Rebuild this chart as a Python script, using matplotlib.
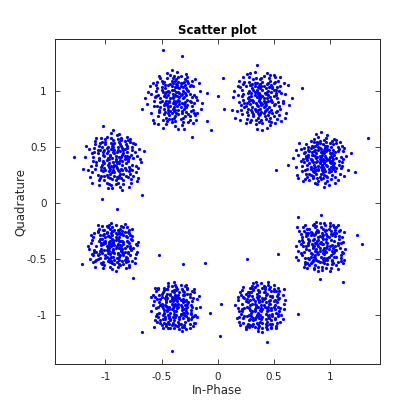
import numpy as np
import matplotlib
matplotlib.use("Agg")
import matplotlib.pyplot as plt

# 8-PSK symbol positions (In-Phase, Quadrature)
centers_i = [0.92, 0.38, -0.38, -0.92, -0.92, -0.38, 0.38, 0.92]
centers_q = [0.38, 0.92, 0.92, 0.38, -0.38, -0.92, -0.92, -0.38]

# received samples around each symbol, offsets in hundredths
offsets_a = [
    (42, 20), (-40, -9), (3, -2), (-7, 5), (11, 1), (-2, -9), (6, 13), (-12, -4), (1, 7), (9, -6),
    (-4, 2), (15, 8), (-9, -13), (2, -1), (-1, 17), (7, -11), (-15, 6), (4, 4), (12, -3), (-6, -7),
    (0, 10), (19, -5), (-3, -16), (8, 3), (-11, 12), (5, -14), (-8, 0), (14, 15), (-5, 9), (3, -8),
    (-17, -10), (10, 6), (1, -4), (-2, 21), (6, -19), (-13, 2), (21, 11), (-7, -2), (9, -10), (-1, 4),
    (16, -1), (-10, 8), (2, 14), (-4, -12), (13, -15), (-20, 5), (7, 1), (-6, 16), (0, -6), (11, 9),
    (-3, -1), (5, 20), (-14, -17), (18, 3), (-9, 11), (4, -20), (1, 0), (-12, -8), (8, -2), (-5, 13),
    (24, -9), (-1, -3), (10, 17), (-16, 1), (3, 6), (-7, -14), (14, -7), (-2, 9), (6, -5), (-22, -6),
    (9, 12), (-4, -9), (0, 25), (17, -12), (-11, 3), (2, -11), (-8, 7), (12, 5), (-3, -21), (5, 2),
    (-13, 14), (20, 1), (-6, -4), (7, 9), (-1, -15), (-18, 10), (11, -8), (3, 18), (-9, -6), (15, -18),
    (0, 3), (-5, -10), (8, 15), (-15, -2), (13, 7), (-2, -5), (4, 11), (-10, -18), (23, 4), (-7, 12),
    (1, -7), (10, -13), (-4, 6), (-21, -13), (6, 22), (-12, 0), (16, 10), (2, -16), (-8, -1), (5, 8),
    (-3, 14), (19, -2), (-14, 7), (9, -17), (-1, 1), (12, 19), (-6, -11), (3, -3), (-25, 2), (7, -8),
    (-9, 17), (14, 2), (0, -12), (-5, 4), (10, -1), (-17, -5), (4, 13), (-2, -19), (21, -14), (-11, 9),
    (6, 0), (-7, -16), (17, 16), (-3, 3), (1, -9), (-13, -12), (8, 6), (-19, 15), (11, -4), (-4, -2),
    (27, 6), (-8, 5), (3, -13), (-1, 11), (13, -10), (-10, -3), (5, 16), (-15, 11), (2, -6), (9, 4),
    (-6, 19), (18, -7), (-12, -15), (0, 7), (7, -22), (-2, -8), (15, 12), (-9, 1), (4, -1), (-22, 9),
    (11, 14), (-5, -6), (1, 5), (-16, -19), (8, -9), (-3, 16), (20, 8), (-7, -10), (6, -15), (-11, 5),
    (3, 9), (-1, -2), (13, -20), (-18, -1), (5, -4), (-4, 23), (10, 3), (-14, -9), (16, -4), (-8, 13),
    (2, 1), (-29, -4), (9, -3), (-6, 8), (14, 18), (-10, -12), (0, -17), (6, 10), (-20, -16), (12, -6),
    (-2, 12), (4, -10), (-13, 4), (19, 13), (-5, -20), (8, -1), (-1, 15), (-9, -8), (31, -11), (3, -24),
]
offsets_b = [
    (-33, 19), (-38, 3), (-32, -8), (37, 10), (-3, 31), (2, -4), (-8, 6), (10, -1), (-1, 12), (5, -9),
    (-12, -3), (7, 8), (0, -13), (14, 4), (-5, 15), (3, 1), (-16, 9), (9, -16), (-2, -6), (18, 12),
    (-7, -11), (1, 19), (12, -5), (-10, 2), (6, 14), (-4, -18), (15, -10), (-14, -7), (4, 6), (-1, -1),
    (20, -3), (-9, 13), (2, -21), (11, 10), (-6, -2), (-19, 17), (8, -7), (-3, 7), (13, 20), (-11, -14),
    (0, 4), (17, -14), (-5, -8), (6, 24), (-15, 0), (9, 2), (-2, 11), (-21, -10), (3, -12), (12, 15),
    (-8, 3), (1, -3), (22, 5), (-13, 12), (5, -17), (-6, 18), (10, -9), (-1, 6), (-17, -5), (7, -1),
    (14, 9), (-4, -22), (0, 14), (-10, 8), (19, -19), (-7, 0), (3, 21), (-12, -17), (8, 11), (-2, -9),
    (16, -2), (-20, 4), (4, -6), (-5, 25), (11, -12), (-9, -4), (2, 9), (25, 13), (-14, 16), (6, -25),
    (-1, 2), (13, -4), (-7, 10), (9, 17), (-16, -13), (0, -8), (5, 5), (-11, 1), (18, -8), (-3, 15),
    (7, -14), (-23, 8), (1, 12), (12, 3), (-6, -15), (-10, 20), (15, -17), (-4, -3), (3, -1), (21, 15),
    (-8, -9), (10, 7), (-15, 5), (-2, -16), (6, 1), (-12, 23), (14, -11), (0, 10), (-19, -2), (8, -19),
    (-5, 4), (2, 16), (17, 8), (-9, -20), (11, -2), (-3, 9), (-18, 11), (4, -10), (26, -5), (-7, 14),
    (1, -11), (-13, -6), (9, 22), (-1, 0), (15, 1), (-6, -13), (-22, -16), (5, 10), (12, -15), (-4, 19),
    (-10, -1), (19, 6), (2, -27), (-15, 14), (7, 4), (-3, -5), (10, 13), (-8, -18), (23, -12), (0, 18),
    (-11, 6), (4, -3), (13, -21), (-5, 12), (-17, -9), (6, 7), (-1, -14), (16, 17), (-9, 0), (3, -7),
    (-24, 2), (11, 11), (-2, 5), (8, -11), (-13, -21), (20, -1), (-6, 9), (1, -18), (14, 6), (-10, 16),
    (5, -5), (-4, -10), (18, 20), (-16, 3), (2, 3), (9, -23), (-7, -7), (12, 9), (-20, 12), (0, -2),
    (7, 15), (-12, -11), (22, -16), (-3, 2), (-9, 24), (4, -15), (15, 11), (-1, -20), (-14, -3), (10, 0),
    (-5, 7), (6, -8), (-18, -18), (13, 16), (1, -5), (-8, 13), (28, 1), (-2, -12), (8, 19), (-11, -8),
    (3, 12), (-6, -1), (17, -6), (-15, 20), (10, -20), (-3, -26), (5, -2), (-25, -9), (12, 22), (0, 1),
]
offsets_c = [
    (-11, 44), (6, 39), (29, 6), (32, -27), (29, -19), (-29, -8), (15, -33), (2, 3), (-7, -5), (11, 9),
    (-3, 12), (6, -10), (-13, 1), (0, -4), (8, 16), (-5, 7), (17, -3), (-10, -13), (3, 20), (-1, -1),
    (13, 5), (-16, 10), (5, -17), (-8, 2), (10, -7), (-2, 15), (-19, -6), (7, 11), (1, -12), (-12, 17),
    (20, 0), (-6, -9), (4, 6), (-3, -20), (14, 13), (-9, 5), (0, -15), (-22, 12), (9, -2), (-4, 22),
    (12, -13), (-14, -11), (3, 0), (-1, 9), (18, 18), (-8, -1), (6, -23), (-17, 3), (1, 14), (10, 4),
    (-5, -14), (-11, 7), (16, -9), (-2, 2), (5, 12), (-20, -18), (8, -4), (-7, 19), (13, -18), (-1, -7),
    (2, 25), (-13, -2), (22, 8), (-4, -10), (7, 1), (-9, 13), (0, -24), (15, -6), (-16, 16), (4, -1),
    (-6, 4), (11, 20), (-25, -4), (3, -9), (-3, 17), (17, 4), (-10, -8), (1, 7), (9, -15), (-15, -15),
    (-2, -3), (6, 15), (-12, 9), (14, -2), (0, 11), (-7, -19), (20, -12), (-4, 1), (10, 10), (-18, 2),
    (3, -13), (-1, 21), (8, -8), (-9, -3), (12, 15), (-14, 21), (5, 4), (-3, -17), (19, -18), (-6, 8),
    (-21, -12), (2, -6), (9, 6), (-11, 15), (16, 12), (-5, -1), (0, 17), (7, -20), (-13, -7), (4, 10),
    (-8, -16), (13, -1), (-2, 5), (-17, 8), (6, -12), (10, 23), (-4, -6), (23, -8), (-10, 3), (1, -2),
    (-6, 13), (15, 2), (-19, -21), (3, 16), (-1, -10), (11, -5), (-12, -1), (5, 21), (-24, 7), (8, 2),
    (-3, -12), (18, -14), (-9, 10), (0, -19), (12, 8), (-15, 4), (4, -4), (-7, 24), (7, -16), (-2, 1),
    (21, 15), (-11, -18), (2, 11), (-5, -2), (14, -10), (-16, -6), (9, 18), (-1, -16), (-8, 7), (6, -3),
    (-20, 15), (11, 0), (-3, 9), (3, -26), (-13, 19), (16, -21), (0, 4), (-6, -12), (9, 13), (-10, -5),
    (4, 2), (-27, 1), (13, 12), (-2, -8), (7, 8), (-8, -22), (1, 18), (19, 2), (-14, -9), (5, -7),
    (-4, 14), (10, -11), (-17, 13), (2, -1), (-9, -11), (15, 17), (-1, 3), (8, -26), (-12, 11), (24, -3),
    (-5, -17), (3, 7), (-19, -1), (12, -20), (-2, 19), (6, 5), (-10, 16), (17, -12), (-7, -4), (0, -9),
    (-15, -22), (9, -6), (-3, 26), (5, 15), (-21, 5), (13, -15), (-6, -7), (2, 13), (-11, -25), (11, 17),
]
offsets_d = [
    (-36, 3), (-11, -35), (25, -31), (-10, 30), (2, -3), (-6, 8), (9, 4), (-2, -11), (13, -6), (-14, 2),
    (5, 14), (-9, -7), (0, 6), (16, 9), (-4, -16), (7, -1), (-18, 11), (3, -9), (-1, 18), (11, 13),
    (-7, 0), (19, -11), (-12, -14), (4, 3), (-3, 10), (8, -18), (-16, -4), (1, -5), (14, 19), (-8, 14),
    (6, -8), (-20, 6), (2, 22), (10, -3), (-5, -21), (-13, 9), (17, 2), (-1, -2), (7, 11), (-10, -10),
    (21, -7), (-4, 5), (0, -14), (-17, 17), (12, -15), (-6, -4), (4, 16), (-24, -9), (9, 1), (-2, 13),
    (15, -20), (-9, 4), (3, -2), (-14, -18), (6, 20), (-1, -9), (11, 7), (-11, 12), (18, 14), (-7, -13),
    (1, 1), (-19, -1), (8, -12), (-3, 24), (13, 3), (-15, 6), (5, -24), (-5, -6), (22, 10), (-8, 19),
    (0, 9), (10, -9), (-22, -15), (3, 12), (-10, -2), (16, -4), (-2, -17), (7, 5), (-13, 15), (4, -14),
    (-6, 2), (14, 16), (-26, 3), (1, -21), (9, 10), (-4, -8), (-16, 20), (12, -1), (-1, 7), (6, -16),
    (-9, -18), (20, 4), (-3, 15), (-12, -6), (5, 8), (17, -14), (-7, 11), (2, -7), (-20, -11), (11, 21),
    (-5, 1), (8, -21), (-14, 13), (0, -4), (24, -2), (-10, 7), (3, 19), (-2, -25), (13, -10), (-17, -8),
    (6, 3), (-8, 16), (10, 14), (-4, -12), (-23, 10), (15, -17), (1, 4), (-11, -4), (7, -4), (-1, 27),
    (18, 7), (-15, -13), (4, -10), (-6, 12), (12, 1), (-19, 3), (2, -15), (9, 17), (-3, -5), (-12, 20),
    (14, -8), (-7, -20), (0, 15), (21, -16), (-9, 9), (5, 0), (-16, -2), (7, -27), (-1, -6), (11, 4),
    (-13, -16), (3, 9), (-25, 13), (16, 12), (-5, -10), (8, 6), (-10, -1), (1, -18), (-3, 20), (19, -5),
    (-8, -9), (12, 18), (-18, 7), (4, -3), (-2, 2), (10, -14), (-14, -22), (6, 13), (23, 1), (-6, -15),
    (0, -11), (-11, 16), (15, 5), (-4, 4), (3, -20), (-21, -5), (8, 9), (-1, 12), (13, -24), (-9, -3),
    (-15, 9), (5, -12), (17, 15), (-7, 6), (1, -1), (-28, -8), (9, -7), (-3, -22), (11, 11), (-12, -9),
    (6, 18), (-5, -3), (14, -12), (-17, 14), (2, 7), (-9, -14), (20, -19), (-2, 10), (7, -9), (-14, 0),
    (4, 23), (-20, -20), (10, 3), (-6, -25), (16, -9), (-1, 14), (-10, 5), (3, -16), (26, 8), (-7, 21),
]
offsets_e = [
    (-29, -17), (40, -9), (17, -29), (2, 32), (-3, 1), (7, -6), (-10, 9), (4, 12), (-1, -10), (12, 3),
    (-7, -4), (5, 15), (-15, -12), (9, -2), (-2, 6), (0, -17), (16, 8), (-12, 2), (3, -7), (-5, 18),
    (8, 1), (-18, -6), (2, 10), (-6, -14), (11, -11), (-1, 3), (-9, 14), (6, -3), (-4, -8), (19, -8),
    (-13, 6), (3, -19), (9, 12), (-5, -2), (14, -1), (-8, -11), (1, 7), (-21, 2), (7, -14), (-2, 13),
    (4, 4), (-11, -17), (16, 5), (-1, -4), (-7, 17), (10, -10), (-16, -1), (3, 1), (-4, -15), (8, 9),
    (-9, 3), (13, -18), (0, 14), (-19, -9), (6, -5), (-6, 8), (2, -11), (11, 16), (-13, -5), (20, 0),
    (-3, -1), (7, 4), (-15, 12), (1, -23), (12, -6), (-8, 7), (4, -2), (-23, -3), (9, 19), (-5, -12),
    (15, -4), (-11, -7), (1, 5), (-3, 11), (10, -15), (-14, 15), (5, 0), (-2, -6), (-17, -14), (13, 11),
    (-6, -1), (3, 14), (-10, -20), (18, -11), (-1, 2), (-13, 9), (8, -9), (-4, 4), (5, -18), (-9, -4),
    (11, 7), (-20, 5), (0, -7), (14, -2), (-6, 16), (4, -13), (-12, 0), (7, 10), (-2, -16), (21, 3),
    (-15, -9), (9, -6), (-3, 20), (1, -2), (-10, -15), (13, 14), (-5, 1), (5, -9), (-18, 11), (10, -20),
    (-1, -3), (-7, 12), (16, -14), (-12, -3), (4, 7), (-4, -11), (8, 3), (-22, -12), (12, -7), (-2, 9),
    (-10, 1), (6, 17), (-4, -19), (15, 6), (-16, -6), (2, -1), (-7, 11), (10, -12), (-1, 5), (-12, -16),
    (6, -4), (-19, 7), (13, 2), (-8, -9), (1, 18), (18, -16), (-5, -5), (-14, 4), (7, 13), (-3, -14),
    (11, -1), (-10, 14), (4, -10), (-17, -19), (0, 0), (14, 9), (-6, -7), (-24, -1), (8, -17), (-2, 16),
    (-13, -11), (5, 10), (-7, -1), (20, -6), (-4, 7), (-15, 18), (2, -15), (11, 4), (-9, -18), (7, -3),
    (-1, 13), (-18, -4), (9, -13), (-5, 3), (16, 15), (-11, 6), (3, -8), (-7, -10), (13, -19), (-21, 9),
    (5, 4), (-2, -21), (10, 8), (-14, -8), (-4, 15), (8, -7), (-8, 4), (17, -2), (-19, -15), (1, 11),
    (-6, -2), (14, -9), (-11, 17), (4, -17), (-1, 1), (12, 12), (-16, -13), (6, -1), (-5, 8), (-12, -5),
    (8, 16), (-3, -10), (19, 1), (-15, 13), (0, -13), (-8, 2), (12, -14), (-20, -8), (3, 6), (-9, 10),
]
offsets_f = [
    (-3, -40), (-29, -23), (7, 37), (27, 38), (31, -6), (2, -2), (-9, 7), (11, -6), (-4, -13), (6, 15),
    (-13, 1), (0, 10), (15, -10), (-7, -4), (9, 4), (-17, -9), (3, -18), (-1, 14), (13, 8), (-10, -15),
    (6, -1), (-3, 6), (18, -15), (-12, 11), (1, -8), (-8, 0), (10, 19), (-19, 4), (4, -12), (0, 2),
    (14, 1), (-6, -20), (8, -6), (-15, 16), (2, 9), (-10, -7), (17, 12), (-3, -3), (5, -16), (-13, 6),
    (0, -10), (10, -2), (-7, 15), (20, 6), (-4, -6), (-16, -14), (7, 3), (-1, 21), (12, -13), (-11, -2),
    (4, 12), (-20, 1), (8, -19), (-3, 8), (14, -4), (-9, -12), (1, 5), (-6, 18), (16, -18), (-14, -6),
    (5, -8), (-1, 0), (11, 15), (-12, -17), (3, 2), (-7, 11), (19, -2), (-2, -15), (8, 10), (-18, 8),
    (-4, 4), (13, -16), (-10, -4), (1, 17), (-15, -10), (7, -6), (-3, 13), (9, 1), (-8, -18), (17, -9),
    (2, 7), (-11, 12), (-21, -5), (11, 11), (-1, -7), (6, -22), (-8, 3), (15, 4), (-5, -11), (0, 19),
    (-13, -15), (8, -3), (-4, 10), (12, -11), (-16, 6), (3, -14), (-7, -1), (21, 9), (-1, -20), (10, 5),
    (-10, 16), (5, 1), (-18, -13), (14, -7), (-2, 4), (7, 13), (-6, -8), (2, -18), (-12, 0), (11, -1),
    (-8, 9), (17, 15), (-3, -17), (-20, 10), (6, -4), (-1, 12), (13, -20), (-9, -10), (4, 7), (-5, -3),
    (9, -14), (-14, 3), (1, -5), (-6, 20), (15, -1), (-11, -20), (7, 10), (-2, 1), (18, -8), (-17, 13),
    (4, -10), (-7, -5), (11, 16), (-4, -12), (-12, 2), (2, 15), (8, -17), (-17, -2), (-1, 6), (14, -12),
    (-5, -16), (7, 6), (-15, 15), (3, -1), (10, -9), (-9, 1), (22, -1), (-2, -10), (5, 19), (-11, -8),
    (-19, -19), (0, 8), (12, 3), (-7, 7), (4, -16), (-13, -13), (16, 7), (-4, 11), (7, -11), (-1, -5),
    (10, -21), (-10, 14), (2, 0), (-16, -7), (8, 12), (-4, -20), (14, -6), (-8, 5), (5, -7), (-21, 8),
    (1, 14), (11, 2), (-5, -1), (-14, 10), (6, -19), (-3, 18), (17, -15), (-10, -6), (3, 10), (-6, -14),
    (13, 11), (-2, -2), (-18, 16), (8, -8), (-8, -16), (2, 4), (20, -10), (-12, 8), (-5, -9), (9, 18),
    (-1, -13), (5, 5), (-15, -1), (15, 13), (-7, 15), (4, -21), (-11, -12), (10, -5), (-3, 2), (0, -17),
]
offsets_g = [
    (-12, 42), (-35, 2), (-36, -27), (34, -7), (6, -32), (2, 4), (-8, -6), (11, 9), (-3, -15), (6, -2),
    (-13, 11), (16, -9), (1, 1), (-5, 17), (9, -16), (-16, -3), (4, 12), (-2, -8), (13, 5), (-10, -13),
    (7, 19), (-4, -1), (18, -14), (-14, 7), (2, -20), (-7, 2), (10, -4), (-1, 13), (-19, -10), (12, 15),
    (5, -7), (-9, -17), (15, 3), (-2, 8), (8, -11), (-16, 14), (0, -4), (20, 10), (-6, -11), (3, 6),
    (-12, -1), (9, 17), (-5, -19), (16, -7), (-20, 5), (6, -14), (-1, 9), (12, -1), (-9, 12), (2, -10),
    (-15, -15), (8, 2), (-3, 19), (14, -18), (-7, -5), (4, 15), (-11, 3), (21, -3), (-2, -16), (9, 9),
    (-6, 6), (1, -12), (-17, 10), (11, -9), (-4, 1), (16, 16), (-10, -8), (6, -21), (-13, -19), (3, 12),
    (10, -2), (-3, -9), (-8, 16), (17, 7), (-19, -5), (5, 3), (-1, -18), (13, -12), (-11, 9), (7, 21),
    (-5, -3), (14, 13), (-15, -11), (2, 7), (10, -19), (-7, 18), (-22, 1), (6, -5), (19, -8), (-3, 11),
    (0, -14), (-10, -2), (12, 4), (-6, 14), (8, -8), (-13, -21), (3, 18), (21, 2), (-2, -6), (-9, 5),
    (15, -15), (-18, 12), (4, -1), (-6, -13), (10, 13), (-1, 3), (-12, -9), (17, -5), (-4, 21), (6, -17),
    (-9, 1), (11, 8), (-2, -22), (-15, 17), (13, -11), (2, -3), (-7, 9), (22, 5), (-5, -12), (8, 15),
    (-17, -7), (5, 10), (-11, -16), (18, -2), (-1, 5), (7, -9), (-20, 8), (12, 19), (-3, -8), (2, -15),
    (-8, 12), (14, -6), (-5, -5), (-14, -2), (9, 2), (1, 20), (-10, -19), (16, 11), (-2, -1), (5, -12),
    (10, -20), (-16, 2), (-2, 14), (13, -3), (-6, -16), (4, 7), (-21, -11), (7, -4), (-9, 16), (17, 13),
    (-4, -10), (1, -2), (-12, 6), (20, -12), (-7, -18), (9, 5), (-1, 12), (-16, -5), (5, -19), (13, 1),
    (-3, 8), (-19, -14), (8, -11), (2, 16), (-9, -4), (15, 9), (-6, 20), (11, -16), (-13, 4), (0, -8),
    (6, 11), (-2, -20), (16, -1), (-11, 12), (-5, 2), (10, -13), (-18, -17), (3, 1), (-8, -9), (21, 15),
    (-15, 8), (5, -16), (-2, 6), (12, 13), (-9, -12), (1, -5), (14, -20), (-6, 15), (8, 4), (-20, -2),
    (4, 17), (-12, -18), (7, -1), (-1, -11), (16, 6), (-10, 10), (2, -23), (-5, 4), (11, -7), (-14, -9),
]
offsets_h = [
    (37, 1), (32, 9), (-38, -8), (20, -33), (-1, -30), (0, 27), (-20, 25), (3, -2), (-7, 5), (10, 9),
    (-4, -13), (14, -4), (-11, 11), (2, 15), (7, -10), (-16, -1), (5, 3), (-2, -19), (12, 16), (-9, -7),
    (1, 1), (-13, 8), (18, -11), (-5, -5), (9, 13), (-1, -15), (-19, 4), (13, -1), (4, 18), (-10, -12),
    (16, 6), (-5, 10), (6, -17), (-12, -16), (2, 6), (-8, 1), (11, -7), (-1, 20), (20, -16), (-15, 13),
    (5, -6), (-3, 14), (10, 0), (-17, -9), (0, -10), (14, 11), (-6, -21), (-10, 5), (17, -2), (2, 9),
    (-13, -3), (8, 17), (-2, -1), (6, -13), (-16, 16), (12, 4), (-5, -11), (21, 12), (-9, 9), (1, -22),
    (10, -5), (-20, -5), (4, 13), (-2, 7), (15, -15), (-7, -14), (-11, 2), (5, -2), (-4, 17), (18, 2),
    (-14, -11), (1, 11), (9, -20), (-5, 2), (13, 14), (-10, -18), (3, -8), (-18, 10), (7, 7), (-1, -5),
    (11, 18), (-6, -1), (19, -6), (-12, 15), (2, -12), (-3, 4), (14, -18), (-8, -8), (5, 10), (-22, -1),
    (8, -1), (-2, 13), (-14, -17), (16, 8), (-6, 6), (3, -16), (-10, -4), (12, -10), (-4, 21), (6, 2),
    (-17, 5), (10, -14), (0, 3), (-7, 18), (22, -3), (-11, -11), (4, -5), (14, 16), (-2, -14), (-9, 12),
    (5, 14), (-15, -6), (18, -9), (-1, -2), (9, 5), (-5, -18), (-20, -13), (11, 10), (2, -7), (-6, 9),
    (15, -21), (-3, 1), (-10, 15), (7, -3), (-13, -1), (3, 20), (20, 3), (-6, -10), (10, -13), (-17, 7),
    (1, -19), (13, 8), (-8, -15), (-2, 12), (6, -11), (-14, 18), (17, 14), (-4, -3), (8, -23), (-11, 0),
    (-1, 8), (21, -13), (-12, -20), (5, 6), (-7, -2), (12, -6), (-19, 13), (2, 1), (-5, 16), (10, -17),
    (-9, -10), (15, 2), (-2, -8), (-16, 3), (7, 15), (-6, -20), (11, -2), (-13, 11), (4, -13), (19, 7),
    (-3, -6), (9, 10), (-22, -10), (0, 16), (14, -10), (-10, 4), (5, -20), (-7, -13), (16, 13), (-1, 2),
    (-14, -15), (6, 8), (-4, 12), (11, -16), (-18, 1), (2, -4), (15, 18), (-8, 11), (-2, -23), (20, -7),
    (-11, 6), (3, -11), (8, 20), (-5, -9), (-15, -19), (13, -4), (1, 7), (-7, -1), (18, -14), (-21, 16),
    (6, -1), (-9, -16), (12, 11), (-2, 5), (-18, -7), (9, -9), (-6, 19), (15, 0), (2, -15), (-12, 9),
]
offsets = [offsets_a, offsets_b, offsets_c, offsets_d,
           offsets_e, offsets_f, offsets_g, offsets_h]

tick_values = [-1, -0.5, 0, 0.5, 1]
tick_labels = ["-1", "-0.5", "0", "0.5", "1"]

in_phase = []
quadrature = []
for ci, cq, pts in zip(centers_i, centers_q, offsets):
    pts = np.array(pts) / 100.0
    in_phase.extend(ci + pts[:, 0])
    quadrature.extend(cq + pts[:, 1])

ink = (0.15, 0.15, 0.15)
fig = plt.figure(figsize=(4.2, 4.2), dpi=100)
ax = fig.add_axes([0.131, 0.133, 0.774, 0.774])
ax.plot(in_phase, quadrature, linestyle="none", marker="o", markersize=2.3,
        markerfacecolor=(0, 0, 1), markeredgecolor="none")

ax.set_xlim(-1.45, 1.45)
ax.set_ylim(-1.44, 1.46)
ax.set_xticks(tick_values, tick_labels)
ax.set_yticks(tick_values, tick_labels)
ax.tick_params(direction="in", length=3.5, width=0.6, top=True, right=True,
               labelsize=7.5, colors=ink, pad=6)
for side in ax.spines.values():
    side.set_color(ink)
    side.set_linewidth(0.7)

ax.set_xlabel("In-Phase", fontsize=8.5, color=ink, labelpad=1)
ax.set_ylabel("Quadrature", fontsize=8.5, color=ink, labelpad=0)
ax.set_title("Scatter plot", fontsize=8.5, fontweight="bold", color="black", pad=4)

fig.savefig("out.png", dpi=100, facecolor="white")
